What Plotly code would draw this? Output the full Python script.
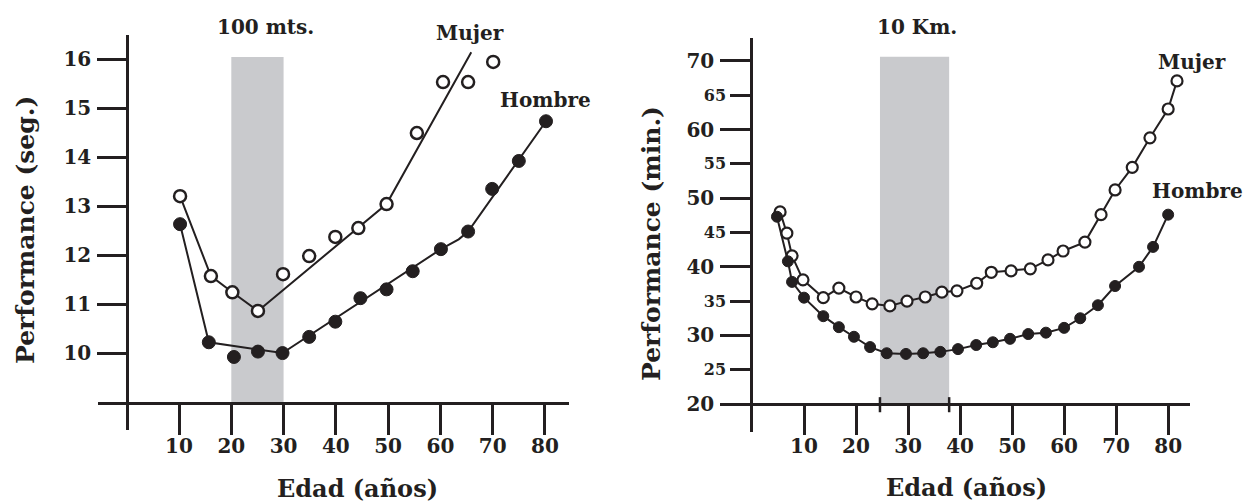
import plotly.graph_objects as go

# ---- data ----
# 100 m, Hombre (filled)
m100_age_hombre = [10.2, 15.7, 20.5, 25.1, 29.8, 34.9, 39.9, 44.7, 49.7, 54.7, 60.1, 65.3, 69.9, 75.0, 80.2]
m100_hombre = [12.63, 10.22, 9.92, 10.03, 10.0, 10.33, 10.64, 11.12, 11.3, 11.67, 12.12, 12.48, 13.35, 13.92, 14.73]
# 100 m, Hombre fitted line
m100_fit_age_hombre = [10.2, 15.7, 29.8, 60.1, 63.5, 65.3, 80.2]
m100_fit_hombre = [12.63, 10.22, 10.0, 12.12, 12.32, 12.48, 14.73]
# 100 m, Mujer (open)
m100_age_mujer = [10.2, 16.1, 20.2, 25.1, 29.9, 34.9, 39.9, 44.3, 49.7, 55.5, 60.5, 65.3, 70.1]
m100_mujer = [13.2, 11.57, 11.24, 10.86, 11.61, 11.98, 12.37, 12.55, 13.04, 14.49, 15.53, 15.53, 15.94]
# 100 m, Mujer fitted line
m100_fit_age_mujer = [10.2, 16.1, 20.2, 25.1, 49.7, 65.9]
m100_fit_mujer = [13.2, 11.57, 11.24, 10.86, 13.04, 16.14]

# 10 km, Hombre
k10_age_hombre = [4.8, 6.9, 7.7, 10.0, 13.7, 16.7, 19.6, 22.7, 25.9, 29.6, 32.9, 36.2, 39.6,
                  43.1, 46.3, 49.6, 53.1, 56.5, 60.0, 63.1, 66.5, 69.8, 74.4, 77.1, 80.0]
k10_hombre = [47.3, 40.8, 37.8, 35.5, 32.8, 31.2, 29.8, 28.3, 27.4, 27.3, 27.4, 27.6, 28.0,
              28.6, 29.0, 29.5, 30.2, 30.4, 31.1, 32.5, 34.4, 37.2, 40.0, 42.9, 47.6]
# 10 km, Mujer
k10_age_mujer = [5.4, 6.7, 7.7, 9.8, 13.7, 16.7, 20.0, 23.1, 26.5, 29.8, 33.3, 36.5, 39.4,
                 43.2, 46.0, 49.8, 53.5, 56.9, 59.8, 64.0, 67.1, 69.8, 73.1, 76.5, 80.0, 81.7]
k10_mujer = [48.0, 44.9, 41.6, 38.1, 35.5, 36.9, 35.6, 34.6, 34.3, 35.0, 35.6, 36.3, 36.5,
             37.6, 39.2, 39.4, 39.7, 41.0, 42.3, 43.6, 47.6, 51.2, 54.5, 58.8, 63.0, 67.1]

# shaded age bands
band_100 = [20, 30]
band_10k = [24.6, 37.9]

age_ticks = [10, 20, 30, 40, 50, 60, 70, 80]
ticks_100 = [10, 11, 12, 13, 14, 15, 16]
ticks_10k_major = [20, 30, 40, 50, 60, 70]
ticks_10k_minor = [25, 35, 45, 55, 65]

# ---- layout helpers (window pixel -> paper) ----
W, H = 1255, 503
OFF = 8  # page body margin around the plot div
INK = "#231f20"
SHADE = "#c9cacd"
FONT = "DejaVu Serif"


def fx(px):
    return (px - OFF) / W


def fy(py):
    return 1 - (py - OFF) / H


fig = go.Figure()

# 100 m panel
fig.add_trace(go.Scatter(x=m100_fit_age_mujer, y=m100_fit_mujer, mode="lines",
                         line=dict(color=INK, width=2), xaxis="x", yaxis="y"))
fig.add_trace(go.Scatter(x=m100_fit_age_hombre, y=m100_fit_hombre, mode="lines",
                         line=dict(color=INK, width=2), xaxis="x", yaxis="y"))
fig.add_trace(go.Scatter(x=m100_age_mujer, y=m100_mujer, mode="markers", xaxis="x", yaxis="y",
                         marker=dict(size=12, color="white", line=dict(color=INK, width=2.5))))
fig.add_trace(go.Scatter(x=m100_age_hombre, y=m100_hombre, mode="markers", xaxis="x", yaxis="y",
                         marker=dict(size=13, color=INK, line=dict(color=INK, width=1))))

# 10 km panel
fig.add_trace(go.Scatter(x=k10_age_mujer, y=k10_mujer, mode="lines+markers", xaxis="x2", yaxis="y2",
                         line=dict(color=INK, width=2),
                         marker=dict(size=11, color="white", line=dict(color=INK, width=2.2))))
fig.add_trace(go.Scatter(x=k10_age_hombre, y=k10_hombre, mode="lines+markers", xaxis="x2", yaxis="y2",
                         line=dict(color=INK, width=2),
                         marker=dict(size=11, color=INK, line=dict(color=INK, width=1))))
# carrier for the minor tick axis
fig.add_trace(go.Scatter(x=[None], y=[None], xaxis="x2", yaxis="y3", hoverinfo="skip"))

axis_common = dict(showgrid=False, zeroline=False, showline=True, linecolor=INK, linewidth=2.5,
                   ticks="outside", tickcolor=INK, tickwidth=2.5, fixedrange=True,
                   tickfont=dict(family=FONT, size=20, color=INK, weight="bold"))

fig.update_layout(
    width=W, height=H, showlegend=False,
    margin=dict(l=0, r=0, t=0, b=0),
    paper_bgcolor="white", plot_bgcolor="rgba(0,0,0,0)",
    xaxis=dict(axis_common, domain=[fx(98), fx(569)], range=[-5.5, 84.6],
               anchor="free", position=fy(403), tickvals=age_ticks, ticklen=30,
               ticklabelstandoff=-6),
    yaxis=dict(axis_common, domain=[fy(430), fy(35)], range=[8.43, 16.49],
               anchor="free", position=fx(127), tickvals=ticks_100, ticklen=29,
               ticklabelstandoff=2),
    xaxis2=dict(axis_common, domain=[fx(721), fx(1190)], range=[-5.96, 84.2],
                anchor="free", position=fy(404), tickvals=age_ticks, ticklen=29,
                ticklabelstandoff=-6),
    yaxis2=dict(axis_common, domain=[fy(432), fy(38)], range=[15.92, 73.35],
                anchor="free", position=fx(751), tickvals=ticks_10k_major, ticklen=30,
                ticklabelstandoff=2),
    yaxis3=dict(axis_common, overlaying="y2", range=[15.92, 73.35],
                anchor="free", position=fx(751), tickvals=ticks_10k_minor, ticklen=20,
                ticklabelstandoff=1,
                tickfont=dict(family=FONT, size=16, color=INK, weight="bold")),
)

# shaded bands and their edge marks
fig.add_shape(type="rect", xref="x", yref="y", x0=band_100[0], x1=band_100[1], y0=9, y1=16.04,
              fillcolor=SHADE, line_width=0, layer="below")
fig.add_shape(type="rect", xref="x2", yref="y2", x0=band_10k[0], x1=band_10k[1], y0=20, y1=70.6,
              fillcolor=SHADE, line_width=0, layer="below")
for b in band_10k:
    fig.add_shape(type="line", xref="x2", yref="y2", x0=b, x1=b, y0=21.0, y1=18.8,
                  line=dict(color=INK, width=2.5))


def label(text, px, py, size=20, angle=0):
    fig.add_annotation(text=text, x=fx(px), y=fy(py), xref="paper", yref="paper",
                       showarrow=False, xanchor="center", yanchor="middle", textangle=angle,
                       font=dict(family=FONT, size=size, color=INK, weight="bold"))


label("100 mts.", 265, 27, 20)
label("Mujer", 470, 33, 20)
label("Hombre", 545, 100, 20)
label("Performance (seg.)", 25, 230, 25, -90)
label("Edad (años)", 358, 488, 24)

label("10 Km.", 917, 27, 20)
label("Mujer", 1192, 62, 20)
label("Hombre", 1197, 191, 20)
label("Performance (min.)", 651, 243, 25, -90)
label("Edad (años)", 966, 487, 24)

fig.write_html("out.html")
